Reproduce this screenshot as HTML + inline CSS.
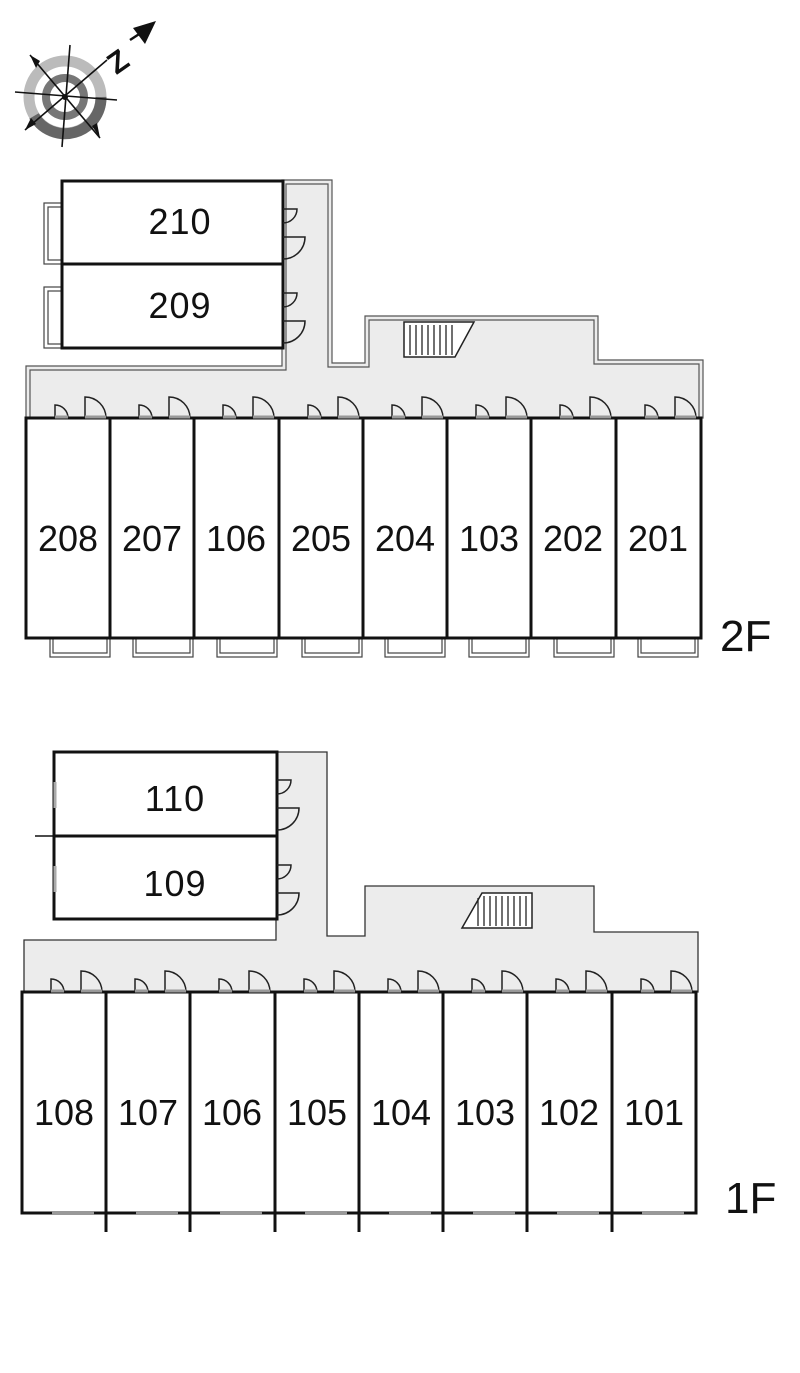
<!DOCTYPE html>
<html><head><meta charset="utf-8"><style>
html,body{margin:0;padding:0;background:#fff}
svg{display:block}
text{font-family:"Liberation Sans",sans-serif;fill:#111}
</style></head><body>
<svg width="800" height="1373" viewBox="0 0 800 1373" xmlns="http://www.w3.org/2000/svg">
<defs>
<g id="dp" fill="none" stroke="#222" stroke-width="1.5">
<path d="M29,0 V-13 A13,13 0 0 1 42,0"/>
<path d="M59,0 V-21 A21,21 0 0 1 80,0"/>
<line x1="29" y1="-1" x2="42" y2="-1" stroke="#999" stroke-width="3"/>
<line x1="59" y1="-1" x2="80" y2="-1" stroke="#999" stroke-width="3"/>
</g>
<g id="sd" fill="none" stroke="#222" stroke-width="1.5">
<path d="M0,0 H14 A14,14 0 0 1 0,14"/>
<path d="M0,28 H22 A22,22 0 0 1 0,50"/>
</g>
<g id="bal" fill="#fff" stroke="#444" stroke-width="1.2">
<rect x="0" y="0" width="60" height="19"/>
<rect x="3" y="0" width="54" height="15"/>
</g>
</defs>

<!-- compass -->
<g>
<circle cx="65" cy="97" r="36" fill="none" stroke="#bbb" stroke-width="11"/>
<path d="M34,116 A36,36 0 0 0 101,97" fill="none" stroke="#666" stroke-width="11"/>
<circle cx="65" cy="97" r="19" fill="none" stroke="#777" stroke-width="8"/>
<g stroke="#111" stroke-width="1.6">
<line x1="15" y1="92" x2="117" y2="100"/>
<line x1="70" y1="45" x2="62" y2="147"/>
<line x1="30" y1="55" x2="100" y2="138"/>
<line x1="25" y1="130" x2="107" y2="60"/>
</g>
<circle cx="65" cy="97" r="3" fill="#111"/>
<polygon points="25,130 31,118 36,124" fill="#111"/>
<polygon points="30,55 36,68 40,61" fill="#111"/>
<polygon points="100,138 92,126 97,123" fill="#111"/>
<line x1="130" y1="40" x2="150" y2="27" stroke="#111" stroke-width="2.5"/>
<polygon points="156,21 133,28 145,44" fill="#111"/>
<text x="107" y="70" font-size="30" font-weight="bold" transform="rotate(-35 120 58)">Z</text>
</g>

<!-- 2F corridor -->
<path d="M26,418 V366 H282 V180 H332 V363 H365 V316 H598 V360 H703 V418 Z" fill="#ececec" stroke="#555" stroke-width="1.2"/>
<path d="M30,418 V370 H286 V184 H328 V367 H369 V320 H594 V364 H699 V418" fill="none" stroke="#555" stroke-width="1.2"/>
<g stroke="#222" stroke-width="1.5" fill="#fff">
<polygon points="404,322 474,322 455,357 404,357"/>
<g stroke-width="1.3"><line x1="410" y1="325" x2="410" y2="355"/><line x1="416" y1="325" x2="416" y2="355"/><line x1="422" y1="325" x2="422" y2="355"/><line x1="428" y1="325" x2="428" y2="355"/><line x1="434" y1="325" x2="434" y2="355"/><line x1="440" y1="325" x2="440" y2="355"/><line x1="446" y1="325" x2="446" y2="355"/><line x1="452" y1="325" x2="452" y2="355"/></g>
</g>

<g fill="#fff" stroke="#444" stroke-width="1.2">
<rect x="44" y="203" width="18" height="61"/><rect x="48" y="207" width="14" height="53"/>
<rect x="44" y="287" width="18" height="61"/><rect x="48" y="291" width="14" height="53"/>
</g>
<rect x="62" y="181" width="221" height="167" fill="#fff" stroke="#111" stroke-width="3"/>
<line x1="62" y1="264" x2="283" y2="264" stroke="#111" stroke-width="3"/>
<use href="#sd" x="283" y="209"/>
<use href="#sd" x="283" y="293"/>
<g font-size="36" text-anchor="middle" letter-spacing="1">
<text x="180" y="234">210</text>
<text x="180" y="318">209</text>
</g>

<use href="#bal" x="50" y="638"/><use href="#bal" x="133" y="638"/><use href="#bal" x="217" y="638"/><use href="#bal" x="302" y="638"/>
<use href="#bal" x="385" y="638"/><use href="#bal" x="469" y="638"/><use href="#bal" x="554" y="638"/><use href="#bal" x="638" y="638"/>
<rect x="26" y="418" width="675" height="220" fill="#fff" stroke="#111" stroke-width="3"/>
<g stroke="#111" stroke-width="3">
<line x1="110" y1="418" x2="110" y2="638"/><line x1="194" y1="418" x2="194" y2="638"/><line x1="279" y1="418" x2="279" y2="638"/><line x1="363" y1="418" x2="363" y2="638"/><line x1="447" y1="418" x2="447" y2="638"/><line x1="531" y1="418" x2="531" y2="638"/><line x1="616" y1="418" x2="616" y2="638"/>
</g>
<use href="#dp" x="26" y="418"/><use href="#dp" x="110" y="418"/><use href="#dp" x="194" y="418"/><use href="#dp" x="279" y="418"/>
<use href="#dp" x="363" y="418"/><use href="#dp" x="447" y="418"/><use href="#dp" x="531" y="418"/><use href="#dp" x="616" y="418"/>
<g font-size="36" text-anchor="middle">
<text x="68" y="551">208</text><text x="152" y="551">207</text><text x="236" y="551">106</text><text x="321" y="551">205</text>
<text x="405" y="551">204</text><text x="489" y="551">103</text><text x="573" y="551">202</text><text x="658" y="551">201</text>
</g>
<text x="720" y="651" font-size="44">2F</text>

<!-- 1F corridor -->
<path d="M24,992 V940 H276 V752 H327 V936 H365 V886 H594 V932 H698 V992 Z" fill="#ececec" stroke="#333" stroke-width="1.3"/>
<g stroke="#222" stroke-width="1.5" fill="#fff">
<polygon points="482,893 532,893 532,928 462,928"/>
<g stroke-width="1.3"><line x1="478" y1="898" x2="478" y2="926"/><line x1="484" y1="896" x2="484" y2="926"/><line x1="490" y1="896" x2="490" y2="926"/><line x1="496" y1="896" x2="496" y2="926"/><line x1="502" y1="896" x2="502" y2="926"/><line x1="508" y1="896" x2="508" y2="926"/><line x1="514" y1="896" x2="514" y2="926"/><line x1="520" y1="896" x2="520" y2="926"/><line x1="526" y1="896" x2="526" y2="926"/></g>
</g>

<rect x="54" y="752" width="223" height="167" fill="#fff" stroke="#111" stroke-width="3"/>
<line x1="54" y1="836" x2="277" y2="836" stroke="#111" stroke-width="3"/>
<line x1="35" y1="836" x2="54" y2="836" stroke="#111" stroke-width="1.5"/>
<g stroke="#aaa" stroke-width="3"><line x1="55" y1="782" x2="55" y2="808"/><line x1="55" y1="866" x2="55" y2="892"/></g>
<use href="#sd" x="277" y="780"/>
<use href="#sd" x="277" y="865"/>
<g font-size="36" text-anchor="middle" letter-spacing="1">
<text x="175" y="811">110</text>
<text x="175" y="896">109</text>
</g>

<rect x="22" y="992" width="674" height="221" fill="#fff" stroke="#111" stroke-width="3"/>
<g stroke="#111" stroke-width="3">
<line x1="106" y1="992" x2="106" y2="1232"/><line x1="190" y1="992" x2="190" y2="1232"/><line x1="275" y1="992" x2="275" y2="1232"/><line x1="359" y1="992" x2="359" y2="1232"/><line x1="443" y1="992" x2="443" y2="1232"/><line x1="527" y1="992" x2="527" y2="1232"/><line x1="612" y1="992" x2="612" y2="1232"/>
</g>
<g stroke="#999" stroke-width="4">
<line x1="52" y1="1213" x2="94" y2="1213"/><line x1="136" y1="1213" x2="178" y2="1213"/><line x1="220" y1="1213" x2="262" y2="1213"/><line x1="305" y1="1213" x2="347" y2="1213"/>
<line x1="389" y1="1213" x2="431" y2="1213"/><line x1="473" y1="1213" x2="515" y2="1213"/><line x1="557" y1="1213" x2="599" y2="1213"/><line x1="642" y1="1213" x2="684" y2="1213"/>
</g>
<use href="#dp" x="22" y="992"/><use href="#dp" x="106" y="992"/><use href="#dp" x="190" y="992"/><use href="#dp" x="275" y="992"/>
<use href="#dp" x="359" y="992"/><use href="#dp" x="443" y="992"/><use href="#dp" x="527" y="992"/><use href="#dp" x="612" y="992"/>
<g font-size="36" text-anchor="middle">
<text x="64" y="1125">108</text><text x="148" y="1125">107</text><text x="232" y="1125">106</text><text x="317" y="1125">105</text>
<text x="401" y="1125">104</text><text x="485" y="1125">103</text><text x="569" y="1125">102</text><text x="654" y="1125">101</text>
</g>
<text x="725" y="1213" font-size="44">1F</text>
</svg>
</body></html>
